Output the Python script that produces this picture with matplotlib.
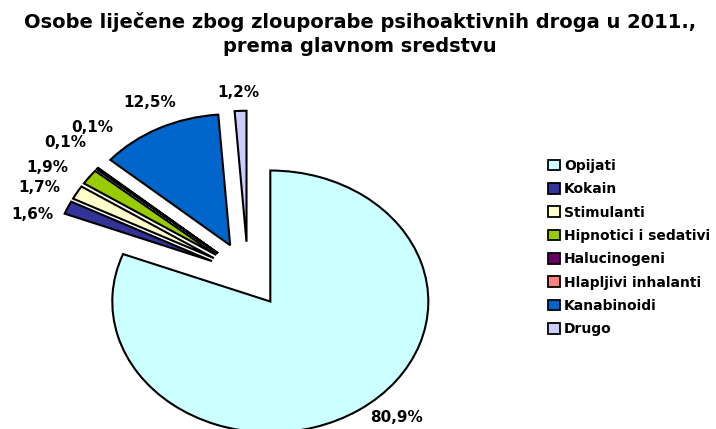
import numpy as np
import matplotlib
matplotlib.use("Agg")
import matplotlib.pyplot as plt
from matplotlib.patches import Patch

# ---- data ----
categories = ["Opijati", "Kokain", "Stimulanti", "Hipnotici i sedativi",
              "Halucinogeni", "Hlapljivi inhalanti", "Kanabinoidi", "Drugo"]
values = [80.9, 1.6, 1.7, 1.9, 0.1, 0.1, 12.5, 1.2]
colors = ["#CCFFFF", "#333399", "#FFFFCC", "#99CC00",
          "#660066", "#FF8080", "#0066CC", "#CCCCFF"]
title = "Osobe liječene zbog zlouporabe psihoaktivnih droga u 2011.,\nprema glavnom sredstvu"

# ---- layout ----
W, H = 716, 429
DPI = 100
fig = plt.figure(figsize=(W / DPI, H / DPI), dpi=DPI)
fig.patch.set_facecolor("white")

cx, cy = 248.0, 274.5      # pie centre in pixels (from top-left)
rx, ry = 158.0, 131.0      # pixel radii of the (stretched) pie

ax = fig.add_axes([0, 0, 1, 1])
wedges, _ = ax.pie(values, colors=colors, startangle=90, counterclock=False,
                   explode=[0.25] * len(values), radius=1.0,
                   wedgeprops=dict(edgecolor="black", linewidth=1.5))
ax.set_aspect("auto")
ax.set_xlim(-cx / rx, (W - cx) / rx)
ax.set_ylim(-(H - cy) / ry, cy / ry)
ax.axis("off")

# label placement: (radius, angular nudge in degrees) per slice
label_pos = [(1.44, 6.3), (1.44, 5.7), (1.48, 3.3), (1.51, 3.8),
             (1.53, -0.9), (1.49, -8.2), (1.45, -1.5), (1.39, 0.4)]
for w, v, (r, d) in zip(wedges, values, label_pos):
    mid = np.deg2rad((w.theta1 + w.theta2) / 2 + d)
    ax.text(r * np.cos(mid), r * np.sin(mid),
            f"{v:.1f}".replace(".", ",") + "%",
            ha="center", va="center", fontsize=11, fontweight="bold",
            family="DejaVu Sans", color="black")

# title, fitted to the width of the reference
t = fig.text(360 / W, 1 - 12 / H, title, ha="center", va="top",
             fontsize=14.5, fontweight="bold", family="DejaVu Sans",
             linespacing=1.3)
fig.canvas.draw()
bb = t.get_window_extent()
t.set_fontsize(14.5 * 674.0 / bb.width)

handles = [Patch(facecolor=c, edgecolor="black", linewidth=1.3) for c in colors]
leg = fig.legend(handles, categories, loc="upper left",
                 bbox_to_anchor=(548 / W, 1 - 159 / H),
                 frameon=False, borderpad=0, borderaxespad=0,
                 handlelength=0.85, handleheight=0.8, handletextpad=0.3,
                 labelspacing=0.67,
                 prop=dict(family="DejaVu Sans", weight="bold", size=10))

fig.savefig("out.png", dpi=DPI, facecolor="white")
